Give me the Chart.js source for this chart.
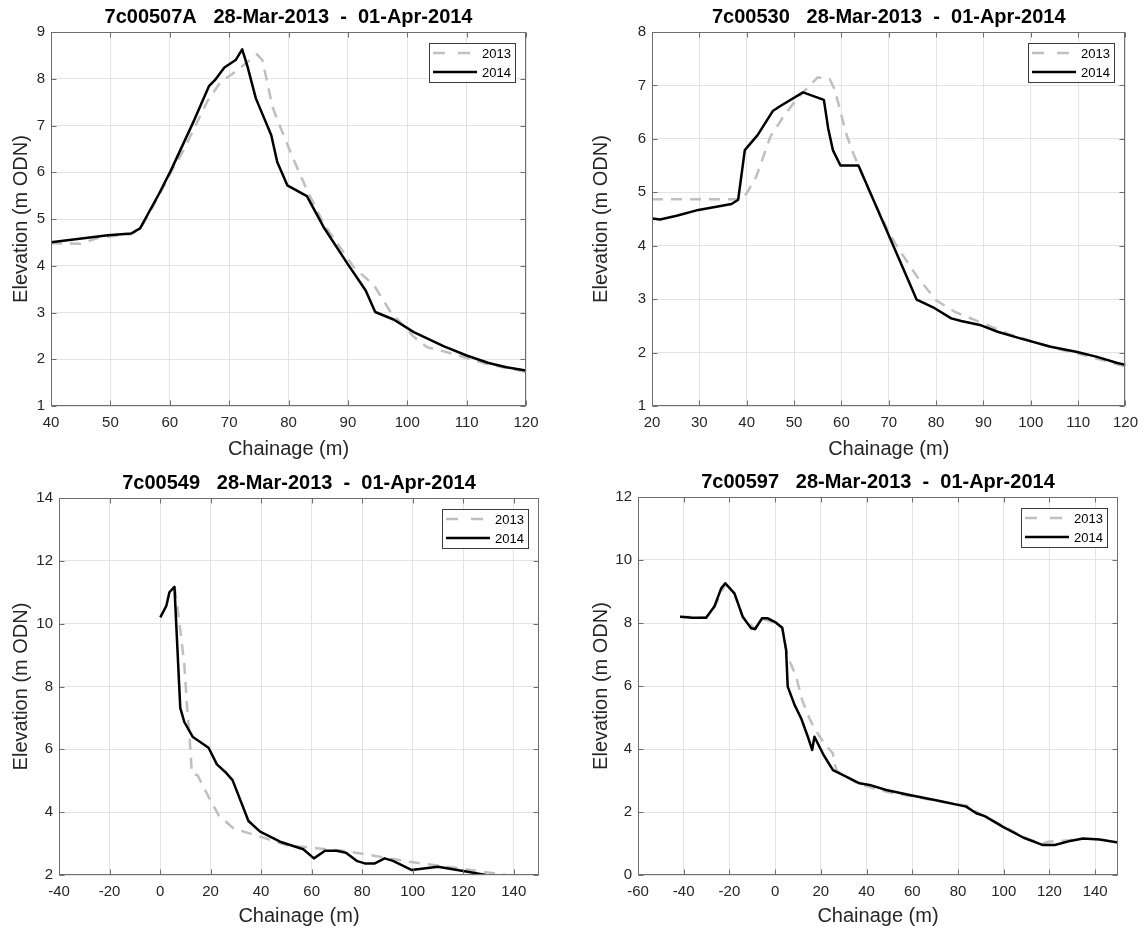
<!DOCTYPE html>
<html lang="en">
<head>
  <meta charset="UTF-8" />
  <title>Beach Profiles</title>
  <script src="https://cdn.jsdelivr.net/npm/chart.js"></script>
  <style>
    body { margin: 0; background: #fff; }
    #wrap { position: relative; width: 1146px; height: 928px; }
    canvas { position: absolute; }
  </style>
</head>
<body>
  <div id="wrap">
    <canvas id="c507" width="573" height="464" style="left:0;top:0"></canvas>
    <canvas id="c530" width="573" height="464" style="left:573px;top:0"></canvas>
    <canvas id="c549" width="573" height="464" style="left:0;top:464px"></canvas>
    <canvas id="c597" width="573" height="464" style="left:573px;top:464px"></canvas>
  </div>

  <script>
    // profile 7c00507A
    const ch507_2013 = [40, 45, 48, 53.5, 55, 58.2, 60.2, 62.2, 66.3, 68.6, 70.3, 73.1, 74.7, 75.6, 77.3, 78.7, 80.9, 83.1, 85.9, 91, 94.4, 97.2, 101.1, 103.3, 106.7, 113.4, 120];
    const el507_2013 = [4.48, 4.47, 4.6, 4.68, 4.78, 5.5, 6.0, 6.44, 7.51, 7.94, 8.08, 8.36, 8.52, 8.4, 7.4, 6.94, 6.26, 5.62, 4.9, 3.97, 3.58, 3.01, 2.48, 2.26, 2.15, 1.9, 1.73];
    const ch507_2014 = [40, 49.6, 53.5, 55, 58.2, 60.2, 64.1, 66.6, 67.6, 69.2, 71.1, 72.2, 73.1, 74.5, 77.1, 78.1, 79.8, 83.1, 85.9, 89.9, 93, 94.6, 97.7, 101.1, 106.1, 110, 113.7, 116.7, 120];
    const el507_2014 = [4.5, 4.65, 4.69, 4.8, 5.54, 6.04, 7.11, 7.84, 7.97, 8.24, 8.4, 8.63, 8.26, 7.58, 6.79, 6.22, 5.72, 5.49, 4.83, 4.05, 3.47, 3.01, 2.85, 2.58, 2.28, 2.08, 1.92, 1.83, 1.76];

    // profile 7c00530
    const ch530_2013 = [20, 39, 40.2, 42, 45, 48, 51, 55, 57.5, 58.6, 61, 62.5, 66, 70, 72, 76, 80, 84, 89, 95, 105, 110, 115, 120];
    const el530_2013 = [4.87, 4.87, 5.01, 5.29, 6.04, 6.45, 6.79, 7.15, 7.12, 6.92, 6.1, 5.73, 5.0, 4.25, 3.95, 3.42, 2.98, 2.76, 2.58, 2.36, 2.08, 1.98, 1.86, 1.74];
    const ch530_2014 = [20, 21.7, 25.2, 29.8, 33.6, 36.8, 38.2, 39.6, 42.3, 45.5, 47.2, 51.9, 56.3, 57.2, 58.2, 59.8, 63.6, 69.2, 74.1, 75.9, 79.7, 83.2, 85.3, 89.5, 93, 97.2, 104.2, 109.8, 114, 118.1, 120];
    const el530_2014 = [4.51, 4.49, 4.56, 4.67, 4.73, 4.78, 4.86, 5.79, 6.07, 6.52, 6.62, 6.87, 6.73, 6.2, 5.79, 5.5, 5.5, 4.36, 3.36, 2.99, 2.83, 2.64, 2.59, 2.51, 2.39, 2.28, 2.11, 2.01, 1.92, 1.81, 1.77];

    // profile 7c00549
    const ch549_2013 = [5.8, 7.4, 9.6, 10.7, 11.7, 12.6, 14.9, 19.2, 23.2, 29.1, 39.6, 50.1, 62, 72.5, 85.7, 98.8, 118.6, 137];
    const el549_2013 = [11.15, 10.2, 8.72, 7.34, 6.39, 5.23, 5.17, 4.49, 3.9, 3.48, 3.22, 2.95, 2.85, 2.77, 2.6, 2.42, 2.21, 2.0];
    const ch549_2014 = [0.1, 2.5, 3.7, 5.7, 8.0, 9.6, 13, 19.2, 22.5, 25.8, 28.7, 35, 39.6, 47.5, 56.7, 60.9, 65.3, 69.9, 73.6, 77.8, 81, 85, 88.9, 92.2, 99.5, 110, 120, 129];
    const el549_2014 = [10.2, 10.57, 11.0, 11.17, 7.32, 6.87, 6.39, 6.05, 5.52, 5.28, 5.02, 3.72, 3.38, 3.06, 2.82, 2.53, 2.77, 2.77, 2.71, 2.45, 2.37, 2.37, 2.53, 2.45, 2.16, 2.26, 2.13, 2.0];

    // profile 7c00597
    const ch597_2013 = [-41.6, -30.2, -26.6, -21.8, -17.8, -14.2, -8.8, -5.7, 0.4, 3.1, 5.5, 9.2, 11.8, 15, 16.9, 20.9, 25.3, 25.7, 27, 35, 41, 50, 60, 72, 84, 90, 100, 110, 117, 120, 125, 133];
    const el597_2013 = [8.2, 8.17, 8.5, 9.24, 8.92, 8.2, 7.8, 8.13, 8.0, 7.85, 6.93, 6.3, 5.56, 4.97, 4.7, 4.23, 3.86, 3.6, 3.3, 2.95, 2.8, 2.62, 2.5, 2.33, 2.2, 1.92, 1.55, 1.15, 1.0, 1.06, 1.08, 1.14];
    const ch597_2014 = [-41.6, -36.1, -30.2, -26.6, -23.6, -21.8, -17.8, -14.2, -10.5, -8.8, -5.7, -3.2, 0.4, 3.1, 4.8, 5.5, 8.5, 11.4, 14.3, 16.2, 17.2, 21.2, 25.3, 32.6, 36.9, 41.3, 48.6, 58.8, 72, 83.6, 88, 91.7, 99.7, 108.5, 117.2, 122.3, 129.6, 134.7, 142, 150];
    const el597_2014 = [8.2, 8.17, 8.17, 8.52, 9.1, 9.26, 8.94, 8.2, 7.83, 7.81, 8.15, 8.15, 8.01, 7.85, 7.14, 5.98, 5.4, 4.97, 4.39, 3.97, 4.39, 3.81, 3.33, 3.07, 2.91, 2.86, 2.7, 2.54, 2.35, 2.17, 1.96, 1.87, 1.53, 1.19, 0.95, 0.95, 1.09, 1.16, 1.13, 1.03];

    // axis ticks
    const xTicks507 = [40, 50, 60, 70, 80, 90, 100, 110, 120];
    const yTicks507 = [1, 2, 3, 4, 5, 6, 7, 8, 9];
    const xTicks530 = [20, 30, 40, 50, 60, 70, 80, 90, 100, 110, 120];
    const yTicks530 = [1, 2, 3, 4, 5, 6, 7, 8];
    const xTicks549 = [-40, -20, 0, 20, 40, 60, 80, 100, 120, 140];
    const yTicks549 = [2, 4, 6, 8, 10, 12, 14];
    const xTicks597 = [-60, -40, -20, 0, 20, 40, 60, 80, 100, 120, 140];
    const yTicks597 = [0, 2, 4, 6, 8, 10, 12];

    const surveys = ['2013', '2014'];
    const dateRange = '28-Mar-2013  -  01-Apr-2014';

    Chart.defaults.font.family = "'Liberation Sans', Arial, sans-serif";
    Chart.defaults.color = '#262626';

    function pts(xs, ys) {
      return xs.map((x, i) => ({ x: x, y: ys[i] }));
    }

    // box round the axes, inward tick marks, legend and title
    const framePlugin = {
      id: 'frame',
      afterDatasetsDraw(chart, args, opts) {
        const ctx = chart.ctx;
        const a = chart.chartArea;
        const x = chart.scales.x, y = chart.scales.y;
        const l = Math.round(a.left) + 0.5, r = Math.round(a.right) - 0.5;
        const t = Math.round(a.top) + 0.5, b = Math.round(a.bottom) - 0.5;
        ctx.save();
        ctx.strokeStyle = '#6e6e6e';
        ctx.lineWidth = 1;
        ctx.beginPath();
        x.ticks.forEach(tk => {
          const px = Math.round(x.getPixelForValue(tk.value)) + 0.5;
          ctx.moveTo(px, b); ctx.lineTo(px, b - 5);
          ctx.moveTo(px, t); ctx.lineTo(px, t + 5);
        });
        y.ticks.forEach(tk => {
          const py = Math.round(y.getPixelForValue(tk.value)) + 0.5;
          ctx.moveTo(l, py); ctx.lineTo(l + 5, py);
          ctx.moveTo(r, py); ctx.lineTo(r - 5, py);
        });
        ctx.stroke();
        ctx.strokeRect(l, t, r - l, b - t);

        // legend
        const bw = 86, bh = 39;
        const bx = Math.round(a.right) - 11 - bw, by = Math.round(a.top) + 11;
        ctx.fillStyle = '#fff';
        ctx.fillRect(bx, by, bw, bh);
        ctx.strokeStyle = '#3c3c3c';
        ctx.strokeRect(bx + 0.5, by + 0.5, bw, bh);
        chart.data.datasets.forEach((ds, i) => {
          const ly = by + 10 + i * 19;
          ctx.beginPath();
          ctx.strokeStyle = ds.borderColor;
          ctx.lineWidth = ds.borderWidth;
          ctx.setLineDash(ds.borderDash ? [12, 13] : []);
          ctx.moveTo(bx + 4, ly);
          ctx.lineTo(bx + 48, ly);
          ctx.stroke();
          ctx.setLineDash([]);
          ctx.fillStyle = '#000';
          ctx.font = "13px 'Liberation Sans', Arial, sans-serif";
          ctx.textBaseline = 'middle';
          ctx.textAlign = 'left';
          ctx.fillText(ds.label, bx + 53, ly + 1);
        });

        // title
        ctx.fillStyle = '#000';
        ctx.font = "bold 20px 'Liberation Sans', Arial, sans-serif";
        ctx.textAlign = 'center';
        ctx.textBaseline = 'middle';
        ctx.fillText(opts.text, (a.left + a.right) / 2, a.top - 15);
        ctx.restore();
      }
    };

    function makeChart(id, name, xs13, ys13, xs14, ys14, xt, yt, box) {
      const ctx = document.getElementById(id).getContext('2d');
      return new Chart(ctx, {
        type: 'line',
        data: {
          datasets: [
            {
              label: surveys[0],
              data: pts(xs13, ys13),
              borderColor: '#bfbfbf',
              borderWidth: 2.5,
              borderDash: [11, 8],
              pointRadius: 0,
              tension: 0,
              order: 2
            },
            {
              label: surveys[1],
              data: pts(xs14, ys14),
              borderColor: '#000000',
              borderWidth: 2.5,
              pointRadius: 0,
              tension: 0,
              borderJoinStyle: 'round',
              order: 1
            }
          ]
        },
        options: {
          responsive: false,
          animation: false,
          layout: {
            padding: { left: 0, top: box.top, right: box.right, bottom: 0 }
          },
          plugins: {
            legend: { display: false },
            title: { display: false },
            tooltip: { enabled: false },
            frame: { text: name + '   ' + dateRange }
          },
          scales: {
            x: {
              type: 'linear',
              min: xt[0],
              max: box.xmax,
              afterBuildTicks: s => { s.ticks = xt.map(v => ({ value: v })); },
              afterFit: s => { s.height = box.xh; },
              border: { display: false },
              grid: { color: '#e3e3e3', drawTicks: false },
              ticks: {
                autoSkip: false,
                maxRotation: 0,
                padding: 8,
                color: '#262626',
                font: { size: 15 }
              },
              title: {
                display: true,
                text: 'Chainage (m)',
                color: '#262626',
                font: { size: 20 },
                padding: { top: 0, bottom: box.xtPad }
              }
            },
            y: {
              type: 'linear',
              min: yt[0],
              max: yt[yt.length - 1],
              afterBuildTicks: s => { s.ticks = yt.map(v => ({ value: v })); },
              afterFit: s => { s.width = box.left; },
              border: { display: false },
              grid: { color: '#e3e3e3', drawTicks: false },
              ticks: {
                padding: 6,
                color: '#262626',
                font: { size: 15 }
              },
              title: {
                display: true,
                text: 'Elevation (m ODN)',
                color: '#262626',
                font: { size: 20 },
                padding: { top: box.ytPad, bottom: 0 }
              }
            }
          }
        },
        plugins: [framePlugin]
      });
    }

    makeChart('c507', '7c00507A', ch507_2013, el507_2013, ch507_2014, el507_2014, xTicks507, yTicks507,
      { left: 51, right: 47, top: 32, xh: 58, xmax: 120, xtPad: 3, ytPad: 9 });
    makeChart('c530', '7c00530', ch530_2013, el530_2013, ch530_2014, el530_2014, xTicks530, yTicks530,
      { left: 79, right: 17, top: 32, xh: 58, xmax: 120, xtPad: 3, ytPad: 16 });
    makeChart('c549', '7c00549', ch549_2013, el549_2013, ch549_2014, el549_2014, xTicks549, yTicks549,
      { left: 59, right: 34, top: 34, xh: 53, xmax: 150, xtPad: 0, ytPad: 9 });
    makeChart('c597', '7c00597', ch597_2013, el597_2013, ch597_2014, el597_2014, xTicks597, yTicks597,
      { left: 65, right: 28, top: 33, xh: 53, xmax: 150, xtPad: 0, ytPad: 16 });
  </script>
</body>
</html>
